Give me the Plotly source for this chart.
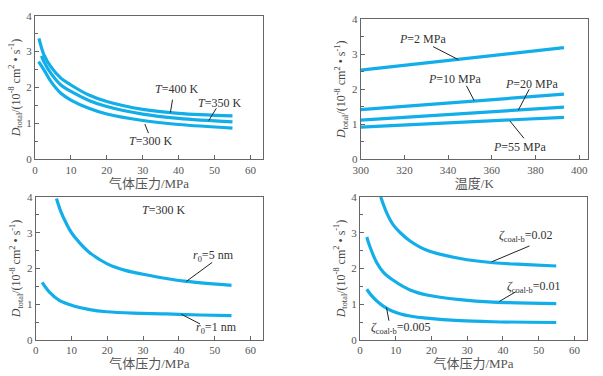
import plotly.graph_objects as go

# ---------- data ----------
# Panel (a): D_total vs gas pressure for three temperatures
p1_T400_x = [1.1, 2.5, 4.4, 7.2, 10, 15, 20, 30, 40, 55]
p1_T400_y = [3.37, 2.91, 2.58, 2.26, 2.07, 1.79, 1.61, 1.39, 1.28, 1.21]
p1_T350_x = [1.8, 2.5, 4.4, 7.2, 10, 15, 20, 30, 40, 55]
p1_T350_y = [2.88, 2.72, 2.40, 2.07, 1.89, 1.64, 1.47, 1.26, 1.14, 1.04]
p1_T300_x = [1.0, 2.5, 4.4, 7.2, 10, 15, 20, 30, 40, 55]
p1_T300_y = [2.72, 2.49, 2.17, 1.84, 1.65, 1.42, 1.26, 1.08, 0.97, 0.87]

# Panel (b): D_total vs temperature for four pressures
p2_x = [300, 393]
p2_P2_y = [2.55, 3.19]
p2_P10_y = [1.42, 1.86]
p2_P20_y = [1.12, 1.49]
p2_P55_y = [0.92, 1.20]

# Panel (c): pore radius
p3_r5_x = [5.8, 7, 8.6, 10, 12, 15, 20, 25.3, 30, 36.5, 42.1, 54.7]
p3_r5_y = [3.96, 3.6, 3.25, 3.0, 2.75, 2.45, 2.13, 1.94, 1.84, 1.72, 1.64, 1.53]
p3_r1_x = [1.8, 3.9, 6.7, 10.4, 15.1, 19.8, 27.2, 36.5, 45.9, 54.7]
p3_r1_y = [1.61, 1.33, 1.10, 0.96, 0.85, 0.79, 0.75, 0.73, 0.70, 0.68]

# Panel (d): coefficient
p4_z02_x = [5.8, 7.5, 9.3, 11.5, 14, 18.7, 28, 37.3, 46.7, 54.9]
p4_z02_y = [4.0, 3.55, 3.22, 2.98, 2.77, 2.51, 2.28, 2.16, 2.11, 2.07]
p4_z01_x = [1.9, 2.8, 4.7, 6.5, 9.3, 14, 18.7, 28, 37.3, 54.9]
p4_z01_y = [2.88, 2.60, 2.16, 1.90, 1.67, 1.40, 1.26, 1.13, 1.06, 1.02]
p4_z005_x = [1.9, 3.0, 4.7, 6.5, 9.3, 14, 18.7, 28, 37.3, 54.9]
p4_z005_y = [1.42, 1.27, 1.09, 0.95, 0.80, 0.67, 0.61, 0.54, 0.51, 0.49]

x_title_p = "气体压力/MPa"
x_title_t = "温度/K"
y_title = "<i>D</i><sub>total</sub>/(10<sup>-8</sup> cm<sup>2</sup> • s<sup>-1</sup>)"

# ---------- style ----------
W, H = 603, 376
BLUE = "#12aeea"
AX = "#666666"
FONT = "Liberation Serif, Times New Roman, Noto Sans CJK SC, serif"
LW = 3.2

fig = go.Figure()

def add_line(x, y, xa, ya):
    fig.add_trace(go.Scatter(x=x, y=y, mode="lines", xaxis=xa, yaxis=ya,
                             line=dict(color=BLUE, width=LW, shape="spline", smoothing=1.0),
                             showlegend=False, hoverinfo="skip"))

add_line(p1_T400_x, p1_T400_y, "x", "y")
add_line(p1_T350_x, p1_T350_y, "x", "y")
add_line(p1_T300_x, p1_T300_y, "x", "y")
for yy in (p2_P2_y, p2_P10_y, p2_P20_y, p2_P55_y):
    add_line(p2_x, yy, "x2", "y2")
add_line(p3_r5_x, p3_r5_y, "x3", "y3")
add_line(p3_r1_x, p3_r1_y, "x3", "y3")
add_line(p4_z02_x, p4_z02_y, "x4", "y4")
add_line(p4_z01_x, p4_z01_y, "x4", "y4")
add_line(p4_z005_x, p4_z005_y, "x4", "y4")

def px_dom(a, b, total):
    return [a / total, b / total]

def py_dom(top, bottom):
    return [1 - bottom / H, 1 - top / H]

common_ax = dict(showline=True, linecolor=AX, linewidth=1.2, mirror=True, automargin=False,
                 ticks="inside", ticklen=4, tickcolor=AX, showgrid=False, zeroline=False,
                 tickfont=dict(family=FONT, size=11, color="#555555"))

def xaxis(dom, rng, dtick, anchor, title):
    d = dict(common_ax)
    d.update(domain=dom, range=rng, dtick=dtick, tick0=rng[0] if dtick == 20 else 0, anchor=anchor,
             title=dict(text=title, font=dict(family=FONT, size=13, color="#555555"), standoff=2))
    return d

def yaxis(dom, anchor):
    d = dict(common_ax)
    d.update(domain=dom, range=[0, 4], dtick=1, anchor=anchor,
             minor=dict(ticks="inside", ticklen=3, dtick=0.5, tickcolor=AX),
             title=dict(text=y_title, font=dict(family=FONT, size=12, color="#444444"), standoff=3))
    return d

fig.update_layout(
    width=W, height=H, margin=dict(l=0, r=0, t=0, b=0),
    paper_bgcolor="white", plot_bgcolor="white",
    font=dict(family=FONT),
    xaxis=xaxis(px_dom(35, 263, W), [0, 63.5], 10, "y", x_title_p),
    yaxis=yaxis(py_dom(15.7, 159.3), "x"),
    xaxis2=xaxis(px_dom(360.7, 588, W), [300, 404], 20, "y2", x_title_t),
    yaxis2=yaxis(py_dom(19.3, 159.3), "x2"),
    xaxis3=xaxis(px_dom(35.7, 263, W), [0, 63.5], 10, "y3", x_title_p),
    yaxis3=yaxis(py_dom(197, 340), "x3"),
    xaxis4=xaxis(px_dom(360, 587, W), [0, 63.5], 10, "y4", x_title_p),
    yaxis4=yaxis(py_dom(197, 340), "x4"),
)

# ---------- labels with leader lines ----------
labels = [
    # (xref, yref, text, tx, ty, lx0, ly0, lx1, ly1)
    ("x", "y", "<i>T</i>=400 K", 39.3, 1.96, 38.3, 1.66, 37.7, 1.30),
    ("x", "y", "<i>T</i>=350 K", 51.4, 1.58, 50.5, 1.42, 48.4, 1.08),
    ("x", "y", "<i>T</i>=300 K", 32.3, 0.51, 31.6, 0.73, 30.6, 0.98),
    ("x2", "y2", "<i>P</i>=2 MPa", 328.5, 3.43, 333.1, 3.22, 344.6, 2.85),
    ("x2", "y2", "<i>P</i>=10 MPa", 343.1, 2.30, 348.4, 2.10, 351.9, 1.68),
    ("x2", "y2", "<i>P</i>=20 MPa", 378.2, 2.15, 377.1, 2.00, 372.1, 1.40),
    ("x2", "y2", "<i>P</i>=55 MPa", 372.8, 0.36, 374.7, 0.60, 368.2, 1.10),
    ("x3", "y3", "<i>T</i>=300 K", 35.6, 3.64, None, None, None, None),
    ("x3", "y3", "<i>r</i><sub>0</sub>=5 nm", 49.6, 2.35, 49.3, 2.17, 42.1, 1.64),
    ("x3", "y3", "<i>r</i><sub>0</sub>=1 nm", 50.5, 0.33, 45.9, 0.45, 40.7, 0.72),
    ("x4", "y4", "<i>ζ</i><sub>coal-b</sub>=0.02", 46.4, 2.91, 47.4, 2.63, 36.9, 2.19),
    ("x4", "y4", "<i>ζ</i><sub>coal-b</sub>=0.01", 48.8, 1.49, 43.6, 1.35, 39.0, 1.08),
    ("x4", "y4", "<i>ζ</i><sub>coal-b</sub>=0.005", 11.4, 0.33, 8.1, 0.54, 7.4, 0.91),
]
for xr, yr, txt, tx, ty, lx0, ly0, lx1, ly1 in labels:
    fig.add_annotation(xref=xr, yref=yr, x=tx, y=ty, text=txt, showarrow=False,
                       font=dict(family=FONT, size=12, color="#333333"))
    if lx0 is not None:
        fig.add_shape(type="line", xref=xr, yref=yr, x0=lx0, y0=ly0, x1=lx1, y1=ly1,
                      line=dict(color="#222222", width=1))

fig.write_html("out.html", config={"displayModeBar": False},
               post_script="document.body.style.margin='0px';")
